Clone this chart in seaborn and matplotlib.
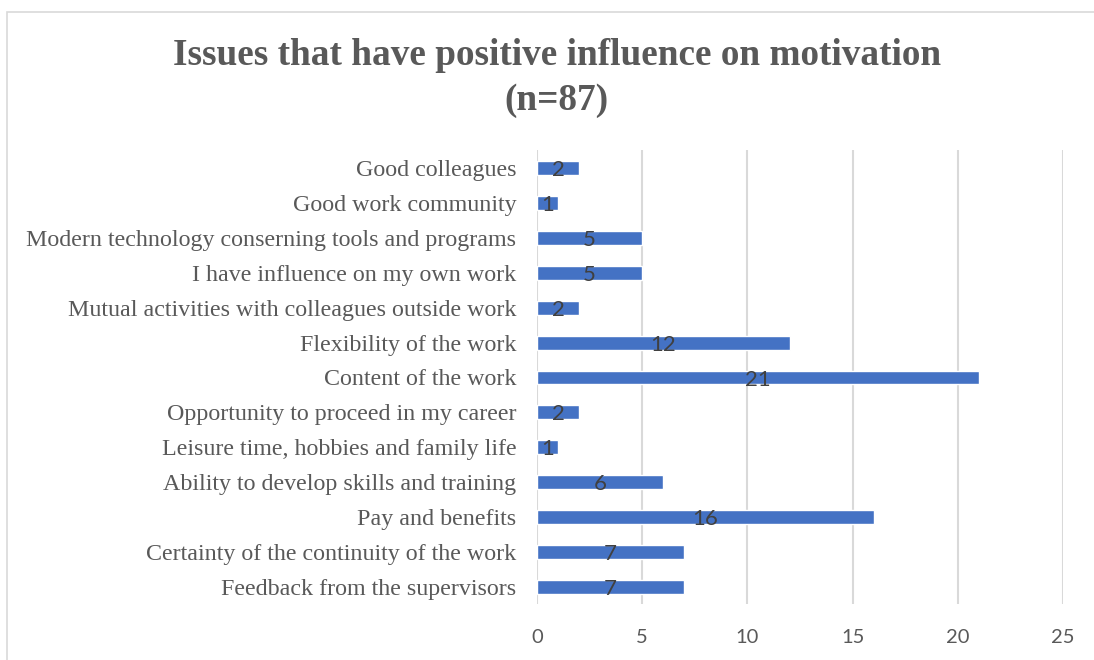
import matplotlib
matplotlib.use("Agg")
import matplotlib.pyplot as plt
import seaborn as sns
import pandas as pd
from matplotlib.patches import Rectangle

categories = [
    "Good colleagues",
    "Good work community",
    "Modern technology conserning tools and programs",
    "I have influence on my own work",
    "Mutual activities with colleagues outside work",
    "Flexibility of the work",
    "Content of the work",
    "Opportunity to proceed in my career",
    "Leisure time, hobbies and family life",
    "Ability to develop skills and training",
    "Pay and benefits",
    "Certainty of the continuity of the work",
    "Feedback from the supervisors",
]
counts = [2, 1, 5, 5, 2, 12, 21, 2, 1, 6, 16, 7, 7]
x_ticks = [0, 5, 10, 15, 20, 25]

df = pd.DataFrame({"issue": categories, "count": counts})

sns.set_theme(style="white")
plt.rcParams["font.family"] = ["Liberation Serif", "DejaVu Serif"]

fig = plt.figure(figsize=(10.94, 6.6), dpi=100)
ax = fig.add_axes([0.4909, 0.0841, 0.4808, 0.6879])

sns.barplot(data=df, x="count", y="issue", orient="h", color="#4472C4",
            saturation=1, width=0.4, ax=ax, zorder=3)

ax.set_xlim(0, 25)
ax.set_ylim(len(categories) - 0.5, -0.5)
ax.set_xticks(x_ticks)
ax.set_xticklabels([str(t) for t in x_ticks], family="Lato", fontsize=14.5, color="#595959")
ax.tick_params(axis="x", length=0, pad=18)
ax.tick_params(axis="y", length=0, pad=15, labelsize=17.3, labelcolor="#595959")
ax.set_xlabel("")
ax.set_ylabel("")
ax.grid(axis="x", color="#D9D9D9", linewidth=1.5, zorder=0)
ax.grid(axis="y", visible=False)
for s in ax.spines.values():
    s.set_visible(False)

# value labels centred on each bar
for cont in ax.containers:
    texts = ax.bar_label(cont, labels=[str(v) for v in counts], label_type="center",
                         family="Lato", fontsize=16, color="#404040", zorder=4)
    for t in texts:
        t.xyann = (0, -1.5)

fig.text(0.509, 0.916, "Issues that have positive influence on motivation",
         ha="center", va="center", fontsize=26.8, fontweight="bold", color="#595959")
fig.text(0.509, 0.848, "(n=87)", ha="center", va="center",
         fontsize=26.8, fontweight="bold", color="#595959")

# chart area frame
fig.patches.append(Rectangle((0.006, -0.1), 1.2, 1.082, transform=fig.transFigure,
                             fill=False, edgecolor="#D9D9D9", linewidth=1.2))

fig.savefig("out.png", dpi=100)
